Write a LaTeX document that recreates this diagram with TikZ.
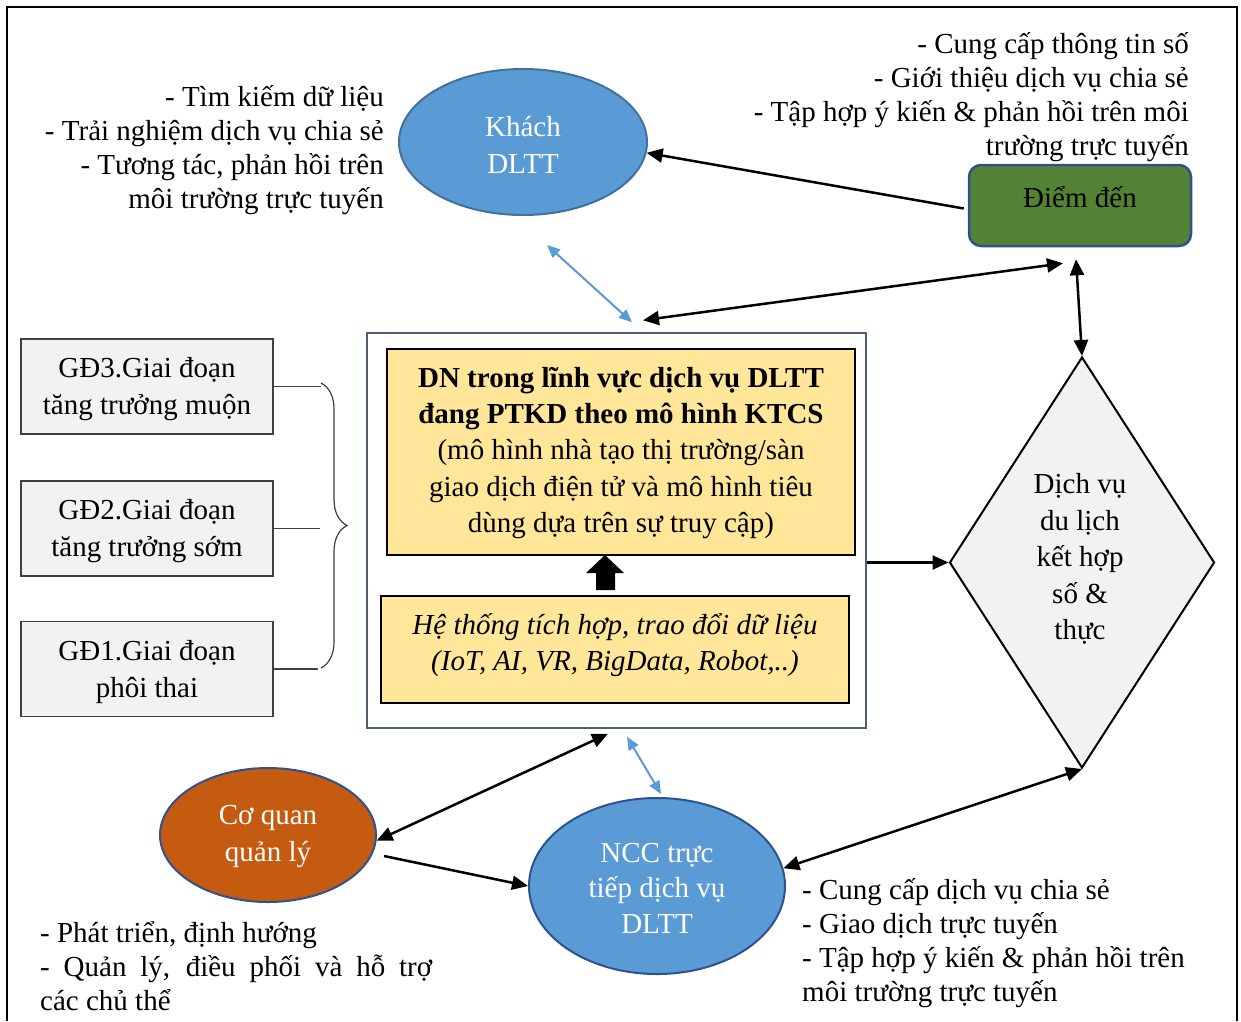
\documentclass[tikz,border=0pt]{standalone}
\usepackage{fontspec}
\setmainfont{Liberation Serif}
\usetikzlibrary{shapes.geometric,arrows.meta,decorations.pathreplacing,calc}
\definecolor{bluefill}{HTML}{5B9BD5}
\definecolor{blueedge}{HTML}{41719C}
\definecolor{darkedge}{HTML}{2F528F}
\definecolor{greenfill}{HTML}{548235}
\definecolor{orangefill}{HTML}{C55A11}
\definecolor{yellowfill}{HTML}{FFE699}
\definecolor{grayfill}{HTML}{F2F2F2}
\definecolor{slate}{HTML}{4F5F75}
\definecolor{boxedge}{HTML}{404040}
\begin{document}
\begin{tikzpicture}[x=1pt,y=-1pt,
 txt/.style={font=\fontsize{29}{34}\selectfont, inner sep=0pt},
 ntxt/.style={font=\fontsize{29}{36.5}\selectfont, align=center, inner sep=0pt},
 wtxt/.style={ntxt, text=white},
 ell/.style={ellipse, draw, line width=2pt, inner sep=0pt},
 stagebox/.style={rectangle, draw=boxedge, line width=1.5pt, fill=grayfill, minimum width=252pt, minimum height=95pt, inner sep=0pt},
 ybox/.style={rectangle, draw=black, line width=1.5pt, fill=yellowfill, inner sep=0pt},
 arr/.style={line width=2.5pt, -{Triangle[length=16pt,width=14pt]}},
 darr/.style={line width=2.5pt, {Triangle[length=16pt,width=14pt]}-{Triangle[length=16pt,width=14pt]}},
 barr/.style={line width=2pt, draw=bluefill, {Triangle[length=13pt,width=11pt]}-{Triangle[length=13pt,width=11pt]}, fill=bluefill},
 bracel/.style={line width=1.2pt, draw=boxedge}
]
\useasboundingbox (0,0) rectangle (1241,1021);
\fill[white] (0,0) rectangle (1241,1021);
\draw[line width=2.5pt] (7,1021) -- (7,7) -- (1237,7) -- (1237,1021);

% ellipses
\node[ell, fill=bluefill, draw=blueedge, minimum width=248pt, minimum height=146pt] (khach) at (523,142) {};
\node[wtxt] (khacht) at (523,145) {Khách\\DLTT};
\node[ell, fill=orangefill, draw=darkedge, minimum width=216pt, minimum height=134pt] (cq) at (268,835) {};
\node[wtxt, font=\fontsize{29}{37}\selectfont] (cqt) at (268,836.5) {Cơ quan\\quản lý};
\node[ell, fill=bluefill, draw=darkedge, minimum width=256pt, minimum height=176pt] (ncc) at (657,886) {};
\node[wtxt, font=\fontsize{29}{35.5}\selectfont] (ncct) at (657,888) {NCC trực\\tiếp dịch vụ\\DLTT};

% destination
\node[rectangle, rounded corners=12pt, draw=darkedge, line width=2.5pt, fill=greenfill, minimum width=222pt, minimum height=81pt, inner sep=0pt] (dd) at (1080,205.5) {};
\node[txt] (ddt) at (1080,197) {Điểm đến};

% central block
\node[rectangle, draw=slate, line width=1.5pt, fill=white, minimum width=499pt, minimum height=395pt, inner sep=0pt] (outer) at (616.5,530.5) {};
\node[ybox, minimum width=468pt, minimum height=206pt] (dn) at (621,452) {};
\node[ntxt, font=\fontsize{29}{36.3}\selectfont] (dnt) at (621,453) {\textbf{DN trong lĩnh vực dịch vụ DLTT}\\\textbf{đang PTKD theo mô hình KTCS}\\(mô hình nhà tạo thị trường/sàn\\giao dịch điện tử và mô hình tiêu\\dùng dựa trên sự truy cập)};
\node[ybox, minimum width=468pt, minimum height=107pt] (ht) at (615,649.5) {};
\node[ntxt, font=\fontsize{29}{36}\selectfont\itshape] (htt) at (615,645) {Hệ thống tích hợp, trao đổi dữ liệu\\(IoT, AI, VR, BigData, Robot,..)};
\fill (596,590) -- (615,590) -- (615,573) -- (624,573) -- (605,555) -- (586,573) -- (596,573) -- cycle;

% stages
\node[stagebox] (g3) at (147,386.5) {};
\node[ntxt, font=\fontsize{29}{37}\selectfont] (g3t) at (147,389.5) {GĐ3.Giai đoạn\\tăng trưởng muộn};
\node[stagebox] (g2) at (147,528.5) {};
\node[ntxt, font=\fontsize{29}{37}\selectfont] (g2t) at (147,531) {GĐ2.Giai đoạn\\tăng trưởng sớm};
\node[stagebox] (g1) at (147,669) {};
\node[ntxt, font=\fontsize{29}{37}\selectfont] (g1t) at (147,672) {GĐ1.Giai đoạn\\phôi thai};
\coordinate (bt) at (321,383);
\coordinate (bb) at (321,668);
\draw[bracel, decorate, decoration={brace, amplitude=26pt}] (bt) -- (bb);
\draw[bracel] (g3.east) -- (g3.east -| bt);
\draw[bracel] (g2.east) -- ([xshift=-1pt]g2.east -| bt);
\draw[bracel] (g1.east) -- ([xshift=-3pt]g1.east -| bt);

% diamond
\node[diamond, draw, line width=2pt, fill=grayfill, minimum width=265pt, minimum height=411pt, inner sep=0pt] (dv) at (1082,562.5) {};
\node[ntxt] (dvt) at (1080,559) {Dịch vụ\\du lịch\\kết hợp\\số \&\\thực};

% free texts
\node[txt, align=right, anchor=east] (tl) at (384,150) {- Tìm kiếm dữ liệu\\- Trải nghiệm dịch vụ chia sẻ\\- Tương tác, phản hồi trên\\môi trường trực tuyến};
\node[txt, align=right, anchor=east] (tr) at (1189,97) {- Cung cấp thông tin số\\- Giới thiệu dịch vụ chia sẻ\\- Tập hợp ý kiến \& phản hồi trên môi\\trường trực tuyến};
\node[txt, align=left, anchor=west] (br) at (802,943) {- Cung cấp dịch vụ chia sẻ\\- Giao dịch trực tuyến\\- Tập hợp ý kiến \& phản hồi trên\\môi trường trực tuyến};
\node[txt, align=left, anchor=west] (bl) at (40,966) {- Phát triển, định hướng\\\makebox[392pt][s]{- Quản lý, điều phối và hỗ trợ}\\các chủ thể};

% connectors
\draw[arr] ([xshift=-4pt,yshift=-3pt]dd.west) -- (khach.-5);
\draw[darr] ([xshift=26.5pt,yshift=12pt]outer.north) -- ([xshift=-17pt,yshift=-16pt]dd.south);
\draw[darr] ([xshift=-4pt,yshift=-12pt]dd.south) -- (dv.north);
\draw[barr] ([xshift=24pt,yshift=-29pt]khach.south) -- ([xshift=15.5pt,yshift=10pt]outer.north);
\draw[arr] (outer.east |- dv.west) -- (dv.west);
\draw[darr] (dv.south) -- (ncc.8);
\draw[darr] ([xshift=-8.5pt,yshift=-5pt]outer.south) -- (cq.-3);
\draw[arr] ([xshift=7pt,yshift=-21pt]cq.east) -- (ncc.west);
\draw[barr] ([xshift=10.5pt,yshift=-8pt]outer.south) -- ([xshift=4pt,yshift=3pt]ncc.north);
\end{tikzpicture}
\end{document}
